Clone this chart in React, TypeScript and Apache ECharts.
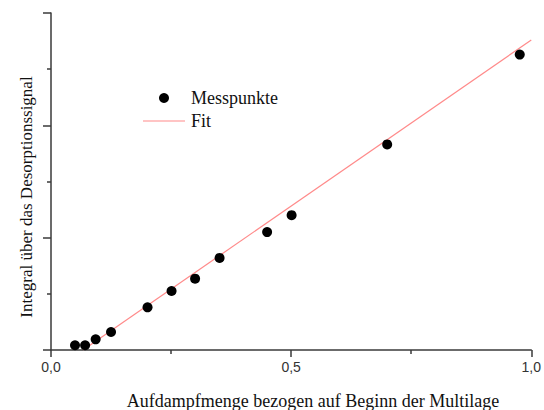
import React, { useEffect, useRef } from "react";
import * as echarts from "echarts";

const measX = [0.05, 0.071, 0.093, 0.125, 0.201, 0.251, 0.3, 0.351, 0.45, 0.501, 0.7, 0.976];
const measY = [0.084, 0.084, 0.19, 0.32, 0.76, 1.05, 1.27, 1.64, 2.1, 2.4, 3.66, 5.26];
const fitX = [0.0667, 1.0];
const fitY = [0, 5.52];
const xTicks = [0, 0.5, 1.0];
const legendNames = ["Messpunkte", "Fit"];

export default function App() {
  const ref = useRef<HTMLDivElement>(null);
  useEffect(() => {
    document.body.style.margin = "0";
    if (!ref.current) return;
    const chart = echarts.init(ref.current, null, { renderer: "svg" });
    const axisColor = "#3a3a3a";
    const serif = "Liberation Serif, Times New Roman, serif";
    chart.setOption({
      animation: false,
      backgroundColor: "#ffffff",
      grid: { left: 51, right: 9, top: 13, bottom: 60 },
      xAxis: {
        type: "value",
        min: 0,
        max: 1,
        interval: 0.5,
        splitLine: { show: false },
        axisLine: { show: true, lineStyle: { color: axisColor, width: 1.5 } },
        axisTick: { show: true, length: 7, lineStyle: { color: axisColor, width: 1.5 } },
        minorTick: { show: true, splitNumber: 2, length: 4, lineStyle: { color: axisColor, width: 1.5 } },
        axisLabel: {
          color: "#333",
          fontFamily: "Liberation Sans, Arial, sans-serif",
          fontSize: 14,
          margin: 10,
          formatter: (v: number) => {
            const t = xTicks.find((x) => Math.abs(x - v) < 1e-9);
            return t === undefined ? "" : t.toFixed(1).replace(".", ",");
          },
        },
      },
      yAxis: {
        type: "value",
        min: 0,
        max: 6,
        interval: 2,
        splitLine: { show: false },
        axisLine: { show: true, onZero: false, lineStyle: { color: axisColor, width: 1.5 } },
        axisTick: { show: true, length: 8, lineStyle: { color: axisColor, width: 1.5 } },
        minorTick: { show: true, splitNumber: 2, length: 4, lineStyle: { color: axisColor, width: 1.5 } },
        axisLabel: { show: false },
      },
      graphic: [
        { type: "circle", shape: { cx: 164, cy: 98, r: 5 }, style: { fill: "#000" } },
        { type: "line", shape: { x1: 143, y1: 121, x2: 185, y2: 121 }, style: { stroke: "#ff8a8a", lineWidth: 1.2 } },
        {
          type: "text",
          x: 191,
          y: 98,
          style: { text: legendNames[0], fontFamily: serif, fontSize: 18, fill: "#111", verticalAlign: "middle" },
        },
        {
          type: "text",
          x: 191,
          y: 121,
          style: { text: legendNames[1], fontFamily: serif, fontSize: 18, fill: "#111", verticalAlign: "middle" },
        },
        {
          type: "text",
          x: 313,
          y: 401,
          style: {
            text: "Aufdampfmenge bezogen auf Beginn der Multilage",
            fontFamily: serif,
            fontSize: 18,
            fill: "#111",
            align: "center",
            verticalAlign: "middle",
          },
        },
        {
          type: "text",
          x: 26,
          y: 197,
          rotation: Math.PI / 2,
          style: {
            text: "Integral über das Desorptionssignal",
            fontFamily: serif,
            fontSize: 17,
            fill: "#111",
            align: "center",
            verticalAlign: "middle",
          },
        },
      ],
      series: [
        {
          name: "Fit",
          type: "line",
          data: fitX.map((x, i) => [x, fitY[i]]),
          symbol: "none",
          showSymbol: false,
          lineStyle: { color: "#ff8a8a", width: 1.2 },
          itemStyle: { color: "#ff8a8a" },
          z: 1,
        },
        {
          name: "Messpunkte",
          type: "scatter",
          data: measX.map((x, i) => [x, measY[i]]),
          symbol: "circle",
          symbolSize: 10,
          itemStyle: { color: "#000", opacity: 1 },
          z: 2,
        },
      ],
    });
    return () => chart.dispose();
  }, []);
  return <div ref={ref} style={{ width: 544, height: 410 }} />;
}
